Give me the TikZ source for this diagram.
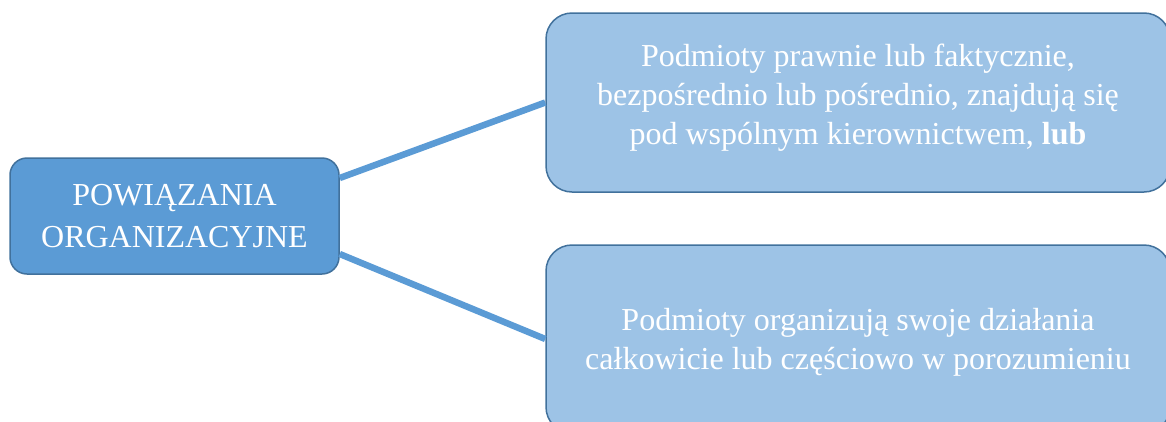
\documentclass[tikz,border=0pt]{standalone}
\usepackage{fontspec}
\setmainfont{Liberation Serif}
\usetikzlibrary{calc}
\definecolor{mainblue}{HTML}{5B9BD5}
\definecolor{lightblue}{HTML}{9DC3E6}
\definecolor{edgeblue}{HTML}{41719C}

\begin{document}
\begin{tikzpicture}[x=1pt,y=-1pt,
        main box/.style={draw=edgeblue, line width=1.5pt, fill=mainblue, rounded corners=17pt,
          text=white, align=center, minimum width=329pt, minimum height=116pt,
          font=\fontsize{32}{42}\selectfont},
        sub box/.style={draw=edgeblue, line width=1.5pt, fill=lightblue, rounded corners=26pt,
          text=white, align=center, minimum width=624pt, inner sep=0pt,
          font=\fontsize{32}{39}\selectfont},
        link/.style={draw=mainblue, line width=6.5pt}]
        \useasboundingbox (0,0) rectangle (1166,421);
        \clip (0,0) rectangle (1166,421);

        % boxes
        \node[main box] (org) at (174.5,216) {POWIĄZANIA\\ORGANIZACYJNE};
        \node[sub box, minimum height=179pt, text depth=17pt] (top) at (858,102.5)
          {Podmioty prawnie lub faktycznie,\\bezpośrednio lub pośrednio, znajdują się\\pod wspólnym kierownictwem, \textbf{lub}};
        \node[sub box, minimum height=188pt, text depth=0pt] (bot) at (858,339)
          {Podmioty organizują swoje działania\\całkowicie lub częściowo w porozumieniu};

        % connectors
        \draw[link] ($(org.east)+(0,-38)$) -- (top.west);
        \draw[link] ($(org.east)+(0,38)$) -- (bot.west);
      \end{tikzpicture}
\end{document}
